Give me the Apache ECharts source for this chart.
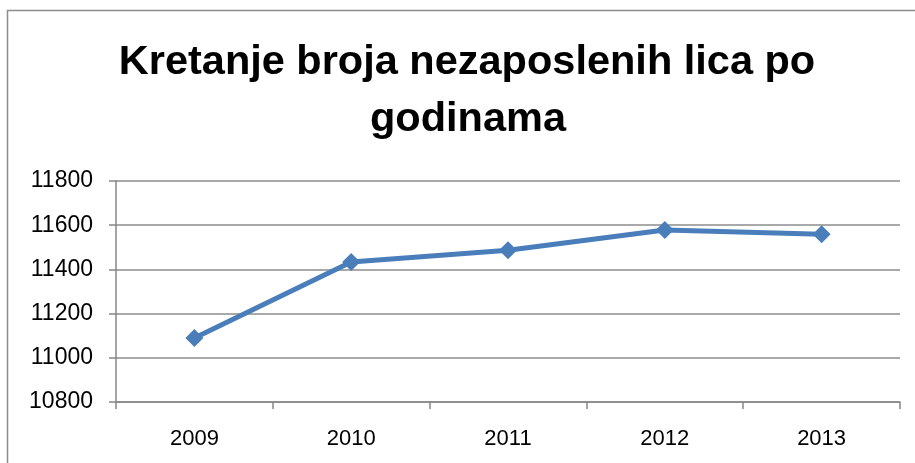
<!DOCTYPE html>
<html>
<head>
<meta charset="utf-8">
<script src="https://cdn.jsdelivr.net/npm/echarts@6/dist/echarts.min.js"></script>
<style>
  html, body { margin: 0; padding: 0; background: #fff; }
  #main { width: 915px; height: 463px; }
</style>
</head>
<body>
<div id="main"></div>
<script>
const years = ['2009', '2010', '2011', '2012', '2013']
const unemployed = [11090, 11433, 11487, 11578, 11559]
const titleLines = ['Kretanje broja nezaposlenih lica po', 'godinama']

const chart = echarts.init(document.getElementById('main'))
const labelFont = '"Liberation Sans", Arial, sans-serif'

chart.setOption({
    animation: false,
    graphic: [
        {
            type: 'rect', silent: true,
            shape: { x: 7.5, y: 10.5, width: 950, height: 500 },
            style: { fill: 'none', stroke: '#8c8c8c', lineWidth: 1.5 }
        },
        {
            type: 'text', x: 467, y: 63,
            style: { text: titleLines[0], font: 'bold 41.5px ' + labelFont, fill: '#000', align: 'center', verticalAlign: 'middle' }
        },
        {
            type: 'text', x: 468, y: 120,
            style: { text: titleLines[1], font: 'bold 41.5px ' + labelFont, fill: '#000', align: 'center', verticalAlign: 'middle' }
        }
    ],
    grid: { left: 116, right: 15, top: 181, bottom: 61 },
    xAxis: {
        type: 'category',
        data: years,
        boundaryGap: true,
        axisLine: { lineStyle: { color: '#868686', width: 1.5 } },
        axisTick: { show: true, length: 7, lineStyle: { color: '#868686', width: 1.5 } },
        axisLabel: { color: '#000', fontSize: 22, fontFamily: labelFont, margin: 26 }
    },
    yAxis: {
        type: 'value',
        min: 10800,
        max: 11800,
        interval: 200,
        axisLine: { show: true, lineStyle: { color: '#868686', width: 1.5 } },
        axisTick: { show: true, length: 7, lineStyle: { color: '#868686', width: 1.5 } },
        axisLabel: { color: '#000', fontSize: 23, fontFamily: labelFont, margin: 23, formatter: v => String(v) },
        splitLine: { lineStyle: { color: '#8c8c8c', width: 1.5 } }
    },
    series: [{
        type: 'line',
        data: unemployed,
        symbol: 'diamond',
        symbolSize: 18,
        lineStyle: { color: '#4a7ebb', width: 5 },
        itemStyle: { color: '#4a7ebb' }
    }]
})
</script>
</body>
</html>
